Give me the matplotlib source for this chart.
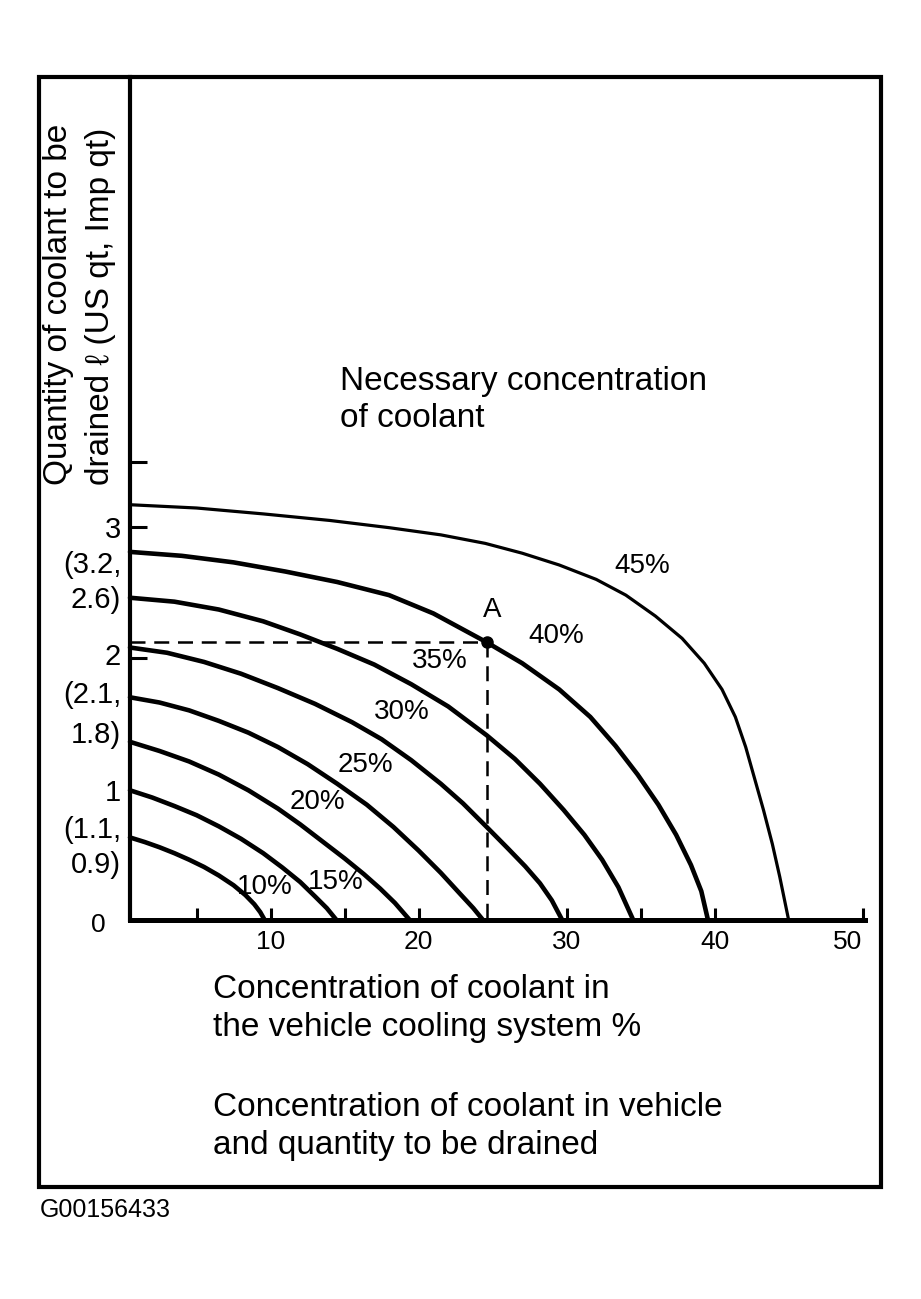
import matplotlib
matplotlib.use("Agg")
import matplotlib.pyplot as plt
from matplotlib.patches import Rectangle

plt.rcParams['font.family'] = ['Liberation Sans', 'DejaVu Sans']

# curves: concentration % (x) vs quantity to drain (y)
c10_x = [0.5, 1.5, 2.5, 3.5, 4.5, 5.5, 6.5, 7.5, 8.3, 8.9, 9.3, 9.6]
c10_y = [0.63, 0.595, 0.555, 0.51, 0.46, 0.405, 0.34, 0.265, 0.19, 0.12, 0.06, 0.0]
c15_x = [0.5, 2.0, 3.5, 5.0, 6.5, 8.0, 9.5, 10.8, 12.0, 13.0, 13.8, 14.45]
c15_y = [0.99, 0.935, 0.87, 0.80, 0.715, 0.62, 0.51, 0.40, 0.29, 0.18, 0.09, 0.0]
c20_x = [0.5, 2.5, 4.5, 6.5, 8.5, 10.5, 12.0, 13.5, 15.0, 16.3, 17.4, 18.4, 19.4]
c20_y = [1.36, 1.29, 1.21, 1.11, 0.99, 0.85, 0.73, 0.60, 0.47, 0.35, 0.24, 0.13, 0.0]
c25_x = [0.5, 2.5, 4.5, 6.5, 8.5, 10.5, 12.5, 14.5, 16.5, 18.3, 20.0, 21.5, 22.8, 23.7, 24.35]
c25_y = [1.70, 1.66, 1.60, 1.52, 1.43, 1.32, 1.19, 1.04, 0.88, 0.71, 0.53, 0.36, 0.20, 0.09, 0.0]
c30_x = [0.5, 3.0, 5.5, 8.0, 10.5, 13.0, 15.5, 17.5, 19.5, 21.5, 23.0, 24.6, 26.0, 27.2,
         28.2, 29.0, 29.7]
c30_y = [2.08, 2.04, 1.97, 1.88, 1.77, 1.65, 1.51, 1.38, 1.22, 1.04, 0.89, 0.71, 0.55, 0.41,
         0.28, 0.15, 0.0]
c35_x = [0.5, 3.5, 6.5, 9.5, 12.0, 14.5, 17.0, 19.5, 22.0, 24.6, 26.5, 28.2, 29.8, 31.2,
         32.4, 33.5, 34.5]
c35_y = [2.46, 2.43, 2.37, 2.28, 2.18, 2.07, 1.95, 1.80, 1.63, 1.41, 1.23, 1.04, 0.84, 0.65,
         0.46, 0.25, 0.0]
c40_x = [0.5, 4.0, 7.5, 11.0, 14.5, 18.0, 21.0, 24.6, 27.0, 29.5, 31.6, 33.3, 34.8, 36.2,
         37.4, 38.4, 39.1, 39.55]
c40_y = [2.81, 2.78, 2.73, 2.66, 2.58, 2.48, 2.34, 2.12, 1.96, 1.76, 1.55, 1.33, 1.11, 0.88,
         0.65, 0.42, 0.22, 0.0]
c45_x = [0.5, 5.0, 9.5, 14.0, 18.0, 21.5, 24.5, 27.0, 29.5, 32.0, 34.0, 36.0, 37.8, 39.3,
         40.5, 41.4, 42.1, 42.7, 43.3, 43.9, 44.4, 45.0]
c45_y = [3.17, 3.145, 3.10, 3.05, 2.995, 2.94, 2.875, 2.80, 2.71, 2.60, 2.48, 2.32, 2.15, 1.96,
         1.76, 1.55, 1.32, 1.08, 0.84, 0.58, 0.33, 0.0]

curve_labels = ['10%', '15%', '20%', '25%', '30%', '35%', '40%', '45%']
label_x = [9.62, 14.42, 13.18, 16.38, 18.88, 21.45, 29.28, 35.1]
label_y = [0.25, 0.29, 0.90, 1.18, 1.59, 1.98, 2.17, 2.70]

point_a = (24.6, 2.12)

xtick_vals = [5, 10, 15, 20, 30, 35, 40, 50]
xtick_text = ['', '10', '', '20', '30', '', '40', '50']
ytick_vals = [2, 3, 3.5]

ylab_text = ['3', '(3.2,', '2.6)', '2', '(2.1,', '1.8)', '1', '(1.1,', '0.9)']
ylab_y = [2.98, 2.71, 2.44, 2.01, 1.72, 1.41, 0.97, 0.69, 0.42]

W, H = 921, 1299
fig = plt.figure(figsize=(W / 100, H / 100), dpi=100)

def fx(px):
    return px / W

def fy(py):
    return 1 - py / H

ax = fig.add_axes([fx(130), fy(920), (865 - 130) / W, (920 - 77) / H])
ax.set_xlim(0.5, 50.16)
ax.set_ylim(0, 843 / 131)

curves = [(c10_x, c10_y), (c15_x, c15_y), (c20_x, c20_y), (c25_x, c25_y),
          (c30_x, c30_y), (c35_x, c35_y), (c40_x, c40_y), (c45_x, c45_y)]
for i, (xs, ys) in enumerate(curves):
    lw = 2.3 if i == 7 else 3.3
    ax.plot(xs, ys, color='black', lw=lw, solid_joinstyle='round',
            solid_capstyle='round', clip_on=False)

for s, x, y in zip(curve_labels, label_x, label_y):
    ax.text(x, y, s, fontsize=20, ha='center', va='center')

# reading example: point A on the 40% curve
ax.plot([ax.get_xlim()[0], point_a[0]], [point_a[1], point_a[1]], color='black',
        lw=1.8, dashes=(6, 3.5))
ax.plot([point_a[0], point_a[0]], [point_a[1], 0], color='black', lw=1.8, dashes=(6, 3.5))
ax.plot(*point_a, 'o', color='black', ms=8)
ax.text(point_a[0] + 0.35, point_a[1] + 0.25, 'A', fontsize=20, ha='center', va='center')

for sp in ['top', 'right']:
    ax.spines[sp].set_visible(False)
ax.spines['left'].set_linewidth(3.0)
ax.spines['bottom'].set_linewidth(3.6)

ax.set_xticks(xtick_vals)
ax.set_xticklabels(xtick_text, fontsize=19)
ax.get_xticklabels()[-1].set_ha('right')
ax.set_yticks(ytick_vals)
ax.set_yticklabels([])
ax.tick_params(axis='x', direction='in', length=9, width=2.2, pad=7)
ax.tick_params(axis='y', direction='in', length=12, width=2.2)

ytr = ax.get_yaxis_transform()
for s, y in zip(ylab_text, ylab_y):
    ax.text(-0.012, y, s, fontsize=21, ha='right', va='center', transform=ytr)
ax.text(-0.033, -0.04, '0', fontsize=19, ha='right', va='center', transform=ytr)

# y label, two rotated lines
fig.text(fx(58), fy(485), 'Quantity of coolant to be', rotation=90, fontsize=24,
         ha='center', va='bottom')
fig.text(fx(100), fy(485), 'drained \u2113 (US qt, Imp qt)', rotation=90, fontsize=24,
         ha='center', va='bottom')

fig.text(fx(340), fy(390), 'Necessary concentration', fontsize=24, va='baseline')
fig.text(fx(340), fy(427), 'of coolant', fontsize=24, va='baseline')
fig.text(fx(213), fy(998), 'Concentration of coolant in', fontsize=24, va='baseline')
fig.text(fx(213), fy(1036), 'the vehicle cooling system %', fontsize=24, va='baseline')
fig.text(fx(213), fy(1116), 'Concentration of coolant in vehicle', fontsize=24, va='baseline')
fig.text(fx(213), fy(1154), 'and quantity to be drained', fontsize=24, va='baseline')
fig.text(fx(40), fy(1210), 'G00156433', fontsize=18, va='center')

fig.add_artist(Rectangle((fx(39), fy(1187)), (881 - 39) / W, (1187 - 77) / H,
                         transform=fig.transFigure, fill=False, lw=3.0, ec='black'))

fig.savefig('out.png', dpi=100, facecolor='white')
